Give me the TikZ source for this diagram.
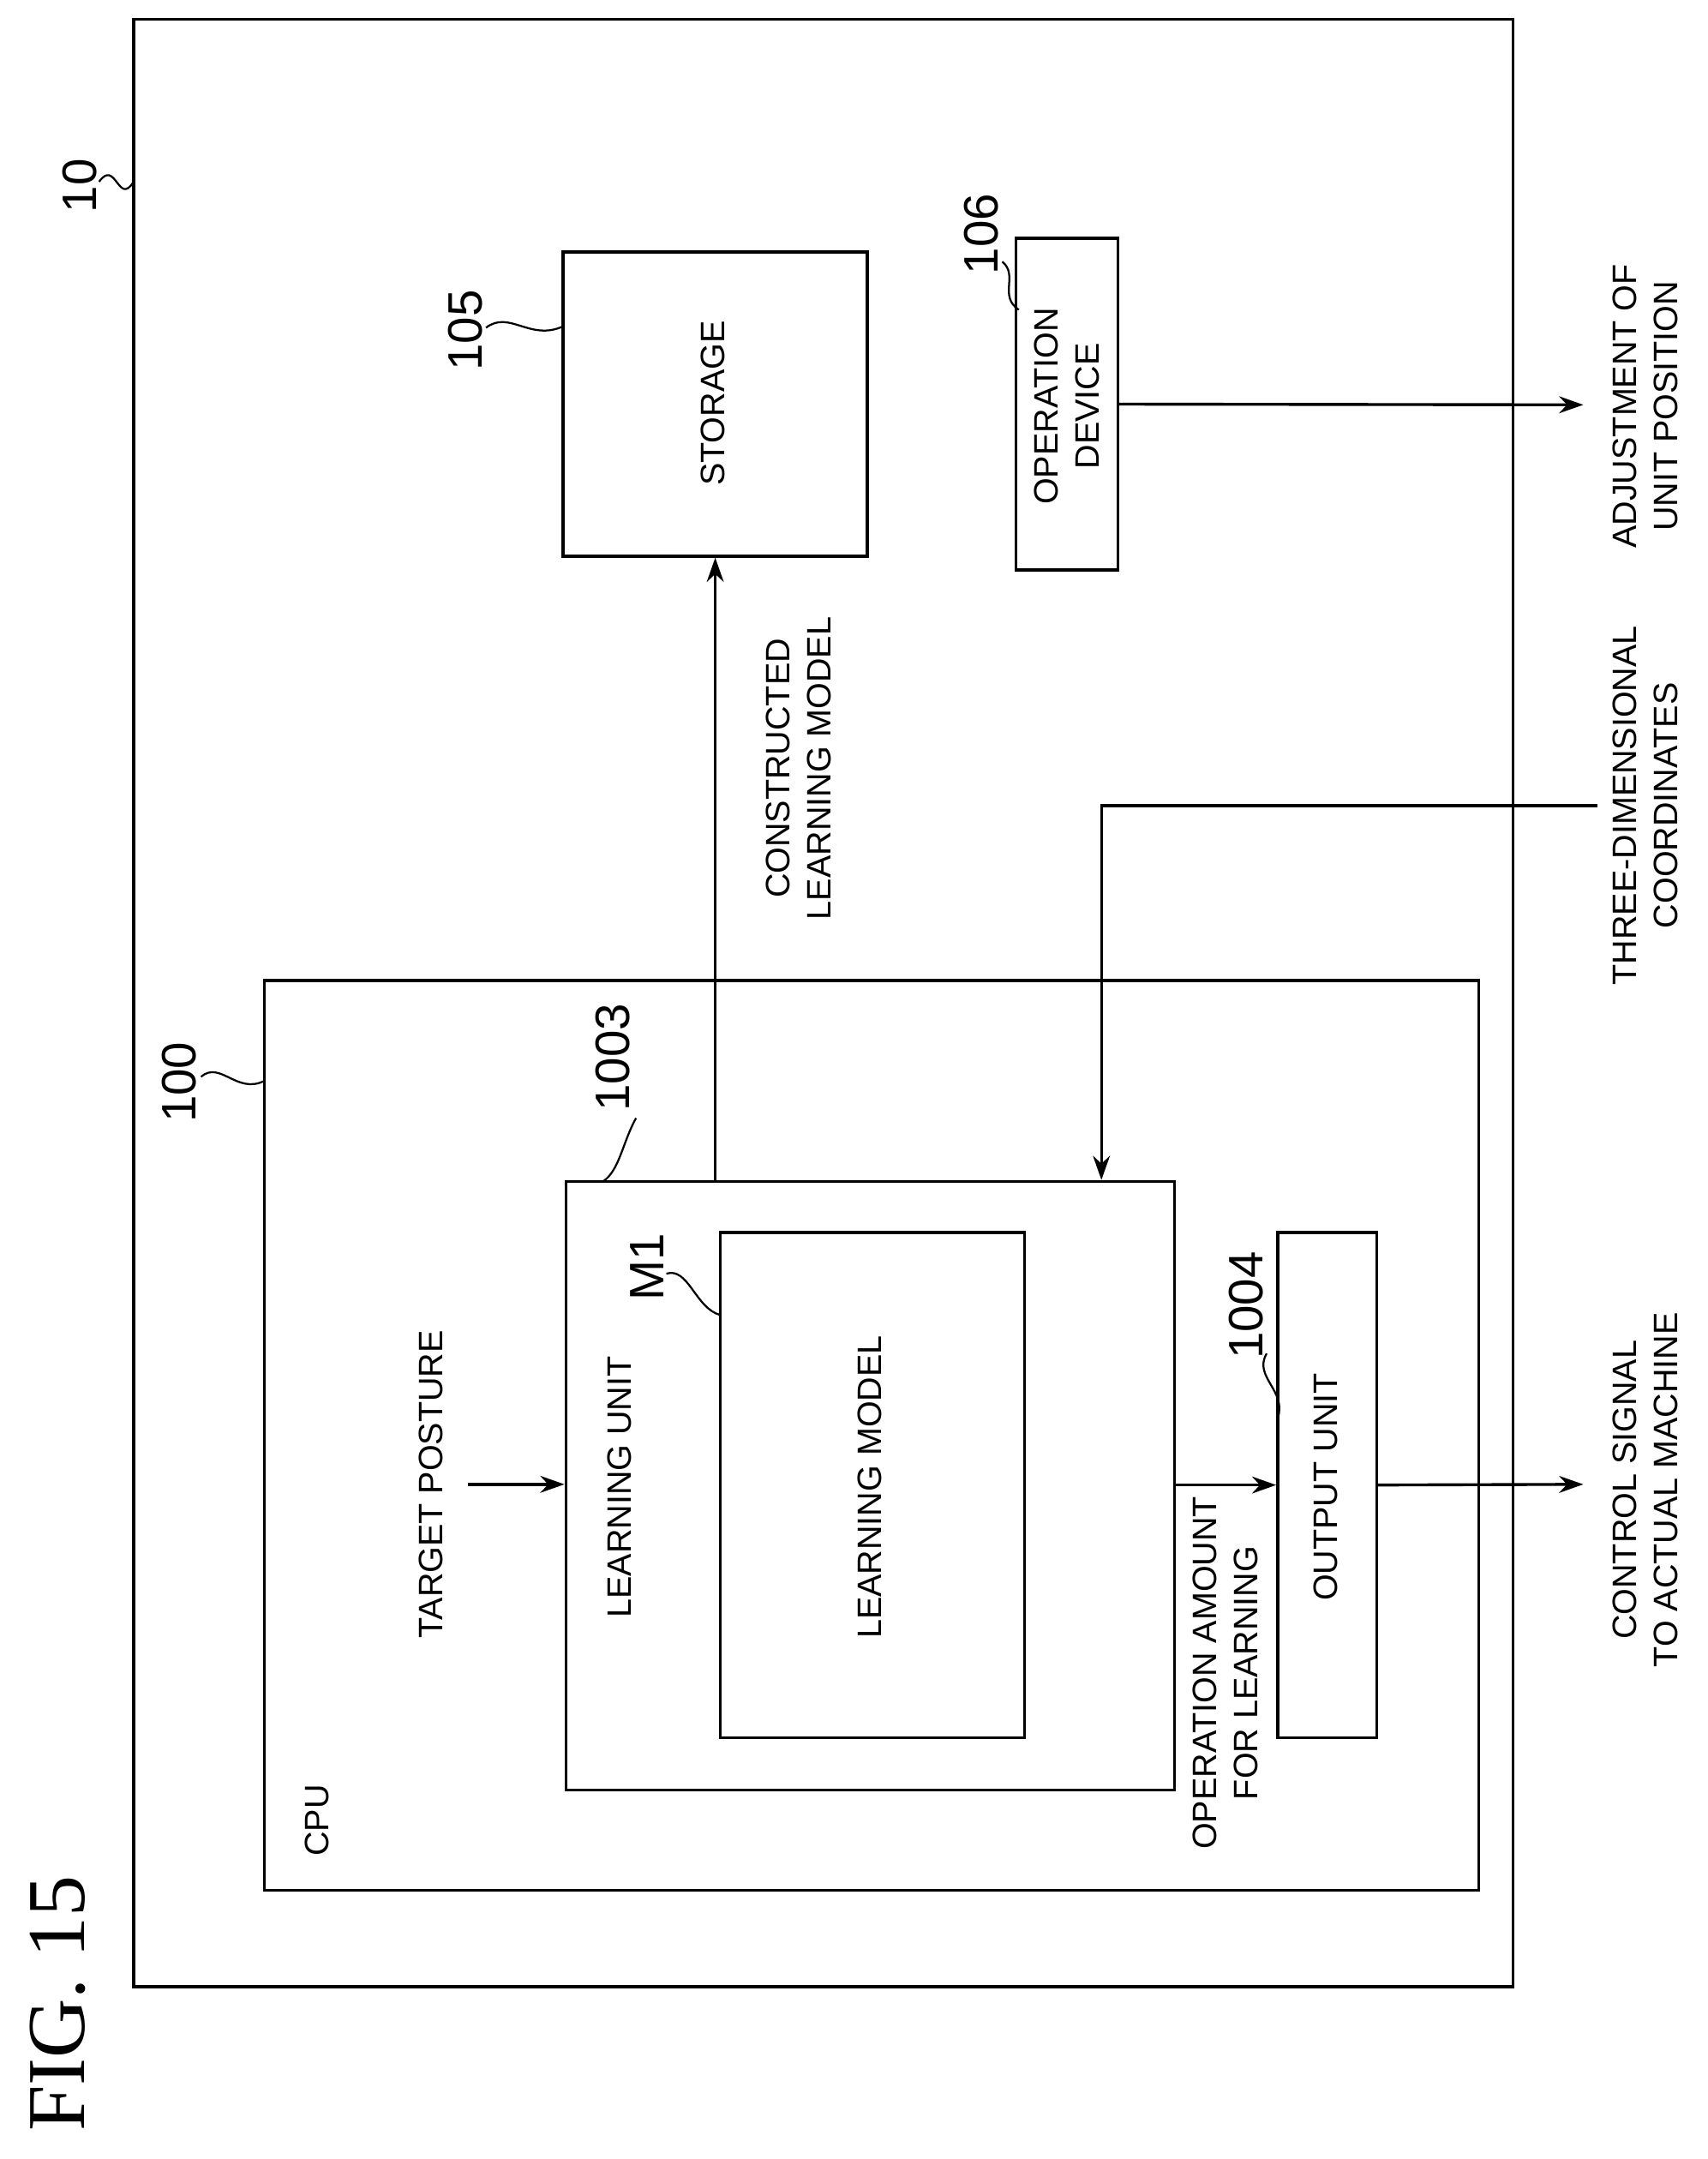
\documentclass[tikz,border=0pt]{standalone}
\usepackage{fontspec}
\setmainfont{Liberation Sans}
\newfontfamily\figfont{Liberation Serif}
\usetikzlibrary{arrows.meta, positioning}
\begin{document}
\begin{tikzpicture}[x=0.02cm, y=-0.02cm, line width=1.2pt,
    box/.style={draw, rectangle, inner sep=0pt},
    lbl/.style={rotate=90, font=\fontsize{14}{17}\selectfont, align=center},
    num/.style={rotate=90, font=\fontsize{20}{22}\selectfont},
    arr/.style={-{Stealth[length=10pt, width=7pt]}},
    lead/.style={line width=0.8pt}]
    \useasboundingbox (0,0) rectangle (1240,1568);
    % frames
    \node[box, minimum width=20.04cm, minimum height=28.58cm] (sys) at (598,728.5) {};
    \node[box, minimum width=17.64cm, minimum height=13.22cm] (cpu) at (633,1042.5) {};
    \node[box, minimum width=8.84cm, minimum height=8.84cm] (learn) at (632,1079) {};
    \node[box, minimum width=4.42cm, minimum height=7.34cm] (model) at (633.5,1078.5) {};
    \node[box, minimum width=1.44cm, minimum height=7.34cm] (out) at (964,1078.5) {};
    \node[box, minimum width=4.42cm, minimum height=4.42cm] (store) at (519.5,293.5) {};
    \node[box, minimum width=1.48cm, minimum height=4.82cm] (opdev) at (775,293.5) {};
    % texts in boxes
    \node[lbl] at (230,1322) {CPU};
    \node[lbl] at (450,1080) {LEARNING UNIT};
    \node[lbl] at (632,1080) {LEARNING MODEL};
    \node[lbl] at (963,1080) {OUTPUT UNIT};
    \node[lbl] at (518,293) {STORAGE};
    \node[lbl] at (775,295) {OPERATION\\DEVICE};
    % reference numbers
    \node[num] (n10) at (58,135) {10};
    \node[num] (n100) at (130,786) {100};
    \node[num] (n1003) at (445,768) {1003};
    \node[num] (nM1) at (470,920) {M1};
    \node[num] (n1004) at (905,948) {1004};
    \node[num] (n105) at (338,240) {105};
    \node[num] (n106) at (713,170) {106};
    \draw[lead] (72,132) .. controls (84,115) and (86,150) .. (97,132);
    \draw[lead] (146,782) .. controls (160,770) and (172,795) .. (192,785);
    \draw[lead] (462,812) .. controls (452,830) and (450,850) .. (438,858);
    \draw[lead] (484,925) .. controls (500,920) and (505,950) .. (523,955);
    \draw[lead] (920,983) .. controls (910,1000) and (935,1010) .. (928,1030);
    \draw[lead] (353,238) .. controls (370,225) and (385,248) .. (409,237);
    \draw[lead] (728,190) .. controls (740,200) and (725,215) .. (740,225);
    % connectors
    \coordinate (tp) at (340,1078);
    \coordinate (tdc) at (1160,585);
    \coordinate (ctl) at (1150,1078);
    \coordinate (adj) at (1150,294);
    \draw[arr] (learn.north -| store.south) -- (store.south);
    \draw[arr] (tdc) -| (learn.north -| 800,0);
    \draw[arr] (tp) -- (tp -| learn.west);
    \draw[arr] (learn.east |- out.west) -- (out.west);
    \draw[arr] (out.east) -- (ctl);
    \draw[arr] (opdev.east) -- (adj);
    % connector labels
    \node[lbl] at (313,1078) {TARGET POSTURE};
    \node[lbl] at (580,558) {CONSTRUCTED\\LEARNING MODEL};
    \node[lbl] at (890,1215) {OPERATION AMOUNT\\FOR LEARNING};
    \node[lbl] at (1195,585) {THREE-DIMENSIONAL\\COORDINATES};
    \node[lbl] at (1195,1082) {CONTROL SIGNAL\\TO ACTUAL MACHINE};
    \node[lbl] at (1195,295) {ADJUSTMENT OF\\UNIT POSITION};
    \node[rotate=90, font=\figfont\fontsize{34}{38}\selectfont] (fig) at (42,1455) {FIG. 15};
\end{tikzpicture}
\end{document}
